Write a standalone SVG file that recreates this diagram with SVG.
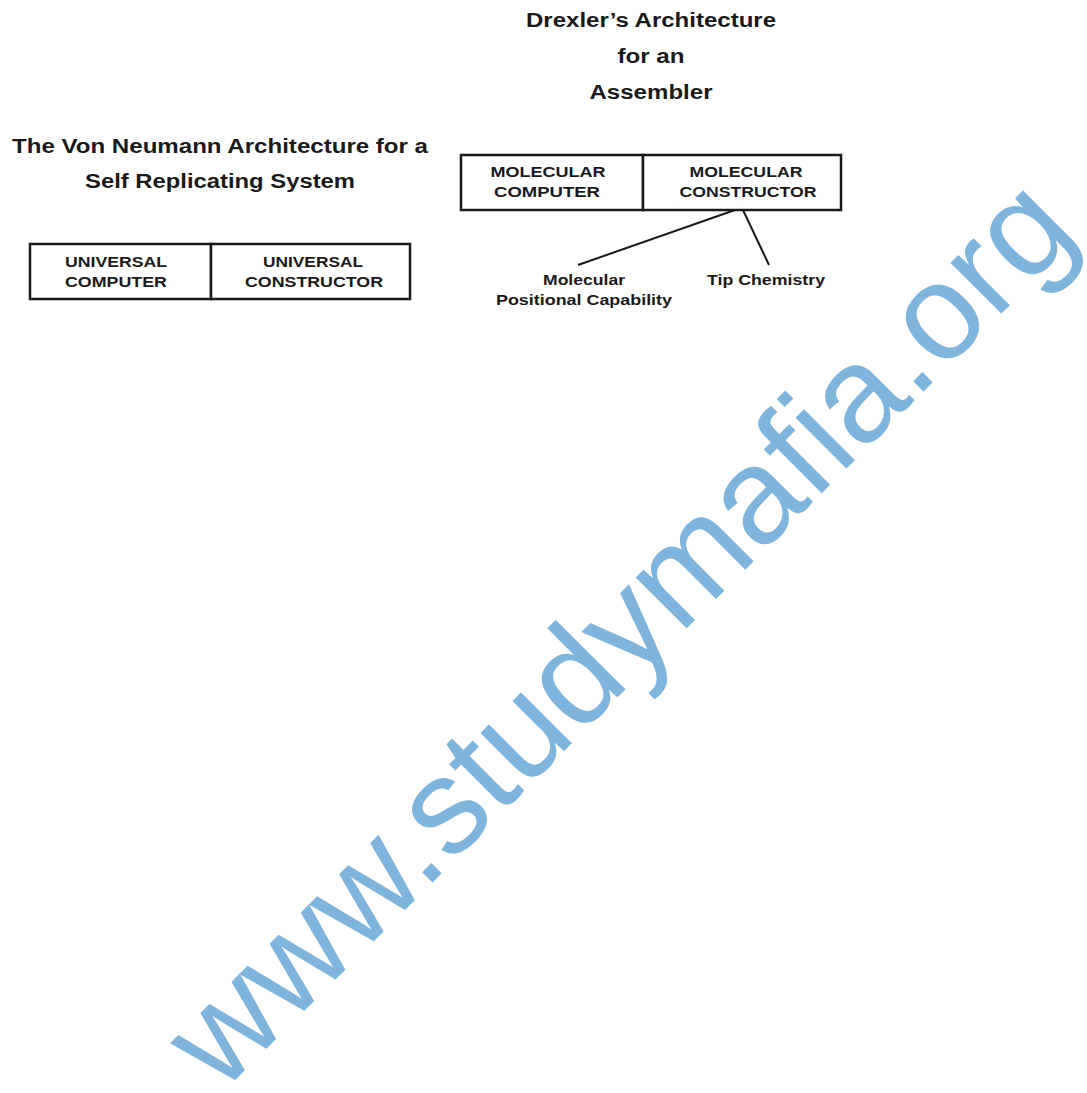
<svg xmlns="http://www.w3.org/2000/svg" width="1087" height="1093" viewBox="0 0 1087 1093">
<style>
.t{font-family:"Liberation Sans",Arial,sans-serif;font-weight:bold;fill:#1a1a1a;text-anchor:middle}
.title{font-size:20px}
.lbl{font-size:15px}
.box{fill:#fff;stroke:#1a1a1a;stroke-width:2.5}
.ln{stroke:#1a1a1a;stroke-width:2;fill:none}
.wm{font-family:"Liberation Sans",Arial,sans-serif;font-size:136px;fill:#7fb4dd}
</style>
<rect width="1087" height="1093" fill="#fff"/>
<g id="title-von-neumann">
<text class="t title" x="220" y="153" textLength="416" lengthAdjust="spacingAndGlyphs">The Von Neumann Architecture for a</text>
<text class="t title" x="220" y="188" textLength="270" lengthAdjust="spacingAndGlyphs">Self Replicating System</text>
</g>
<g id="title-drexler">
<text class="t title" x="651" y="27" textLength="250" lengthAdjust="spacingAndGlyphs">Drexler’s Architecture</text>
<text class="t title" x="651" y="63" textLength="67" lengthAdjust="spacingAndGlyphs">for an</text>
<text class="t title" x="651" y="99" textLength="123" lengthAdjust="spacingAndGlyphs">Assembler</text>
</g>
<g id="universal-computer">
<rect class="box" x="30" y="244" width="181" height="55"/>
<text class="t lbl" x="116" y="267" textLength="102" lengthAdjust="spacingAndGlyphs">UNIVERSAL</text>
<text class="t lbl" x="116" y="287" textLength="102" lengthAdjust="spacingAndGlyphs">COMPUTER</text>
</g>
<g id="universal-constructor">
<rect class="box" x="211" y="244" width="199" height="55"/>
<text class="t lbl" x="313" y="267" textLength="100" lengthAdjust="spacingAndGlyphs">UNIVERSAL</text>
<text class="t lbl" x="314" y="287" textLength="138" lengthAdjust="spacingAndGlyphs">CONSTRUCTOR</text>
</g>
<g id="molecular-computer">
<rect class="box" x="461" y="155" width="182" height="55"/>
<text class="t lbl" x="548" y="177" textLength="115" lengthAdjust="spacingAndGlyphs">MOLECULAR</text>
<text class="t lbl" x="547" y="197" textLength="106" lengthAdjust="spacingAndGlyphs">COMPUTER</text>
</g>
<g id="molecular-constructor">
<rect class="box" x="643" y="155" width="198" height="55"/>
<text class="t lbl" x="746" y="177" textLength="113" lengthAdjust="spacingAndGlyphs">MOLECULAR</text>
<text class="t lbl" x="748" y="197" textLength="137" lengthAdjust="spacingAndGlyphs">CONSTRUCTOR</text>
</g>
<g id="connectors">
<line class="ln" x1="735" y1="210" x2="578" y2="265"/>
<line class="ln" x1="743" y1="210" x2="769" y2="265"/>
</g>
<g id="positional-capability">
<text class="t lbl" x="584" y="285" textLength="82" lengthAdjust="spacingAndGlyphs">Molecular</text>
<text class="t lbl" x="584" y="305" textLength="176" lengthAdjust="spacingAndGlyphs">Positional Capability</text>
</g>
<g id="tip-chemistry">
<text class="t lbl" x="766" y="285" textLength="118" lengthAdjust="spacingAndGlyphs">Tip Chemistry</text>
</g>
<text class="wm" x="221" y="1094" transform="rotate(-45 221 1094)" textLength="1215" lengthAdjust="spacingAndGlyphs">www.studymafia.org</text>
</svg>
